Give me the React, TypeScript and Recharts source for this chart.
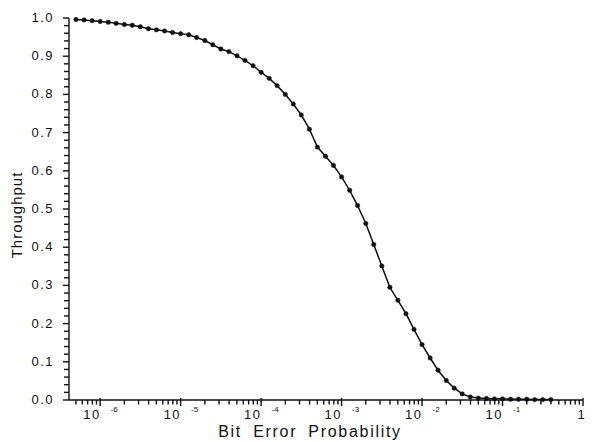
import React from 'react';
import { LineChart, Line, XAxis, YAxis } from 'recharts';

// ---- data ----
const bitErrorProb = [
  5.01e-7, 6.31e-7, 7.94e-7,
  1.0e-6, 1.26e-6, 1.58e-6, 2.0e-6, 2.51e-6, 3.16e-6, 3.98e-6, 5.01e-6, 6.31e-6, 7.94e-6,
  1.0e-5, 1.26e-5, 1.58e-5, 2.0e-5, 2.51e-5, 3.16e-5, 3.98e-5, 5.01e-5, 6.31e-5, 7.94e-5,
  1.0e-4, 1.26e-4, 1.58e-4, 2.0e-4, 2.51e-4, 3.16e-4, 3.98e-4, 5.01e-4, 6.31e-4, 7.94e-4,
  1.0e-3, 1.26e-3, 1.58e-3, 2.0e-3, 2.51e-3, 3.16e-3, 3.98e-3, 5.01e-3, 6.31e-3, 7.94e-3,
  1.0e-2, 1.26e-2, 1.58e-2, 2.0e-2, 2.51e-2, 3.16e-2, 3.98e-2, 5.01e-2, 6.31e-2, 7.94e-2,
  1.0e-1, 1.26e-1, 1.58e-1, 2.0e-1, 2.51e-1, 3.16e-1, 3.98e-1,
];

const throughput = [
  0.996, 0.995, 0.993,
  0.991, 0.989, 0.986, 0.983, 0.981, 0.977, 0.972, 0.969, 0.966, 0.962,
  0.959, 0.956, 0.949, 0.941, 0.930, 0.919, 0.912, 0.901, 0.889, 0.875,
  0.858, 0.842, 0.823, 0.800, 0.775, 0.746, 0.709, 0.662, 0.638, 0.614,
  0.584, 0.549, 0.509, 0.462, 0.407, 0.351, 0.295, 0.261, 0.226, 0.185,
  0.145, 0.110, 0.078, 0.051, 0.031, 0.016, 0.008, 0.005, 0.004, 0.003,
  0.003, 0.002, 0.002, 0.002, 0.001, 0.001, 0.001,
];

const xMajorTicks = [1e-6, 1e-5, 1e-4, 1e-3, 1e-2, 1e-1, 1];
const xBaseLabels = ['10', '10', '10', '10', '10', '10', '1'];
const xExponentLabels = ['-6', '-5', '-4', '-3', '-2', '-1', ''];
const xMinorMultipliers = [2, 3, 4, 5, 6, 7, 8, 9];
const xLeadingMinor = [5e-7, 6e-7, 7e-7, 8e-7, 9e-7];

const yMajorTicks = [0, 0.1, 0.2, 0.3, 0.4, 0.5, 0.6, 0.7, 0.8, 0.9, 1.0];
const yMajorLabels = ['0.0', '0.1', '0.2', '0.3', '0.4', '0.5', '0.6', '0.7', '0.8', '0.9', '1.0'];
const yMinorPerMajor = 5;

const xTitle = 'Bit Error Probability';
const yTitle = 'Throughput';

// ---- derived ----
const chartData = bitErrorProb.map((p, i) => ({ p, t: throughput[i] }));

const xMinorTicks: number[] = [...xLeadingMinor];
xMajorTicks.slice(0, -1).forEach((d) => {
  xMinorMultipliers.forEach((m) => xMinorTicks.push(+(d * m).toPrecision(3)));
});
const xAllTicks = [...xMinorTicks, ...xMajorTicks].sort((a, b) => a - b);

const yAllTicks: number[] = [];
for (let i = 0; i < yMajorTicks.length - 1; i++) {
  const a = yMajorTicks[i];
  const b = yMajorTicks[i + 1];
  for (let k = 0; k < yMinorPerMajor; k++) {
    yAllTicks.push(+(a + ((b - a) * k) / yMinorPerMajor).toFixed(4));
  }
}
yAllTicks.push(yMajorTicks[yMajorTicks.length - 1]);

const INK = '#111';
const FONT = '"Liberation Sans", Arial, Helvetica, sans-serif';

const XTick = (props: any) => {
  const { x, y, payload } = props;
  const v = payload.value;
  const idx = xMajorTicks.indexOf(v);
  const isMajor = idx >= 0;
  const axisY = y;
  return (
    <g>
      <rect x={x - 0.7} y={isMajor ? axisY - 2 : axisY} width={1.4} height={isMajor ? 8 : 4.5} fill={INK} />
      {isMajor &&
        (xExponentLabels[idx] === '' ? (
          <text x={x - 2} y={axisY + 19} textAnchor="middle" fontSize={13} fontFamily={FONT} fill={INK}>
            {xBaseLabels[idx]}
          </text>
        ) : (
          <text x={x - 17} y={axisY + 19} textAnchor="start" fontSize={13} fontFamily={FONT} fill={INK} letterSpacing={1.5}>
            <tspan>{xBaseLabels[idx]}</tspan>
            <tspan dx={10} dy={-7} fontSize={8} letterSpacing={0}>
              {xExponentLabels[idx]}
            </tspan>
          </text>
        ))}
    </g>
  );
};

const YTick = (props: any) => {
  const { x, y, payload } = props;
  const v = payload.value;
  const idx = yMajorTicks.findIndex((m) => Math.abs(m - v) < 1e-6);
  const isMajor = idx >= 0;
  const axisX = x;
  const len = isMajor ? 6 : 5;
  return (
    <g>
      <rect x={axisX - len} y={y - 0.7} width={len} height={1.4} fill={INK} />
      {isMajor && (
        <text x={axisX - 15} y={y + 4} textAnchor="end" fontSize={13} fontFamily={FONT} fill={INK} letterSpacing={1.5}>
          {yMajorLabels[idx]}
        </text>
      )}
    </g>
  );
};

const XTitle = (props: any) => {
  const vb = props.viewBox || {};
  return (
    <text
      x={vb.x + vb.width / 2 - 16}
      y={vb.y + 37}
      textAnchor="middle"
      fontSize={16}
      fontFamily={FONT}
      fill={INK}
      letterSpacing={1.7}
      wordSpacing={5}
    >
      {xTitle}
    </text>
  );
};

const YTitle = (props: any) => {
  const vb = props.viewBox || {};
  const cx = 21.5;
  const cy = vb.y + vb.height / 2 + 6;
  return (
    <text
      x={cx}
      y={cy}
      transform={`rotate(-90, ${cx}, ${cy})`}
      textAnchor="middle"
      fontSize={15}
      fontFamily={FONT}
      fill={INK}
      letterSpacing={1}
    >
      {yTitle}
    </text>
  );
};

export default function App() {
  return (
    <div style={{ position: 'absolute', left: 0, top: 0, width: 596, height: 442, background: '#fff' }}>
      <LineChart width={596} height={442} data={chartData} margin={{ top: 18, right: 13, left: 0, bottom: 0 }}>
        <XAxis
          dataKey="p"
          type="number"
          scale="log"
          domain={[4.1e-7, 1]}
          allowDataOverflow
          ticks={xAllTicks}
          interval={0}
          tickSize={0}
          tickMargin={0}
          tickLine={false}
          tick={<XTick />}
          height={42}
          axisLine={{ stroke: INK, strokeWidth: 1.4 }}
          label={<XTitle />}
        />
        <YAxis
          type="number"
          domain={[0, 1]}
          ticks={yAllTicks}
          interval={0}
          tickSize={0}
          tickMargin={0}
          tickLine={false}
          tick={<YTick />}
          width={69}
          axisLine={{ stroke: INK, strokeWidth: 1.4 }}
          label={<YTitle />}
        />
        <Line
          type="linear"
          dataKey="t"
          stroke={INK}
          strokeWidth={1.5}
          dot={{ r: 2.2, fill: INK, stroke: INK, strokeWidth: 0.5 }}
          isAnimationActive={false}
        />
      </LineChart>
    </div>
  );
}
